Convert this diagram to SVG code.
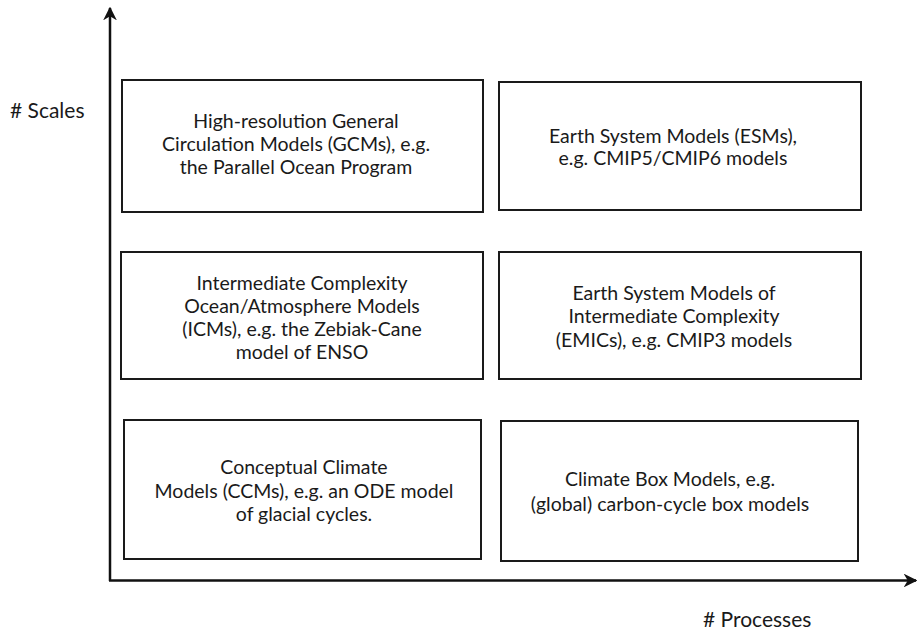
<svg xmlns="http://www.w3.org/2000/svg" width="918" height="631" viewBox="0 0 918 631">
<defs>
<style>
.box{fill:#fff;stroke:#1a1a1a;stroke-width:2}
.t{font-family:Lato,"Open Sans","DejaVu Sans",sans-serif;font-size:19.5px;fill:#1a1a1a;text-anchor:middle}
.lbl{font-family:Lato,"Open Sans","DejaVu Sans",sans-serif;font-size:21px;fill:#1a1a1a}
.ax{stroke:#111;stroke-width:2.5;fill:none}
</style>
<marker id="ah" viewBox="0 0 10 10" refX="9" refY="5" markerWidth="5.5" markerHeight="5.5" markerUnits="strokeWidth" orient="auto">
<path d="M0,0 L10,5 L0,10 L3,5 z" fill="#111"/>
</marker>
</defs>
<rect width="918" height="631" fill="#fff"/>
<g id="connectors">
<path class="ax" d="M110,581 L110,8" marker-end="url(#ah)"/>
<path class="ax" d="M109,580.5 L916,580.5" marker-end="url(#ah)"/>
</g>
<g id="axis-labels">
<text class="lbl" x="10" y="118"># Scales</text>
<text class="lbl" x="703" y="627"># Processes</text>
</g>
<g id="gcm">
<rect class="box" x="122" y="80" width="361" height="132"/>
<text class="t" x="296" y="128">High-resolution General</text>
<text class="t" x="296" y="151">Circulation Models (GCMs), e.g.</text>
<text class="t" x="296" y="173.5">the Parallel Ocean Program</text>
</g>
<g id="esm">
<rect class="box" x="499" y="82" width="362" height="128"/>
<text class="t" x="673" y="142.5">Earth System Models (ESMs),</text>
<text class="t" x="673" y="165">e.g. CMIP5/CMIP6 models</text>
</g>
<g id="icm">
<rect class="box" x="121" y="252" width="362" height="127"/>
<text class="t" x="302" y="290">Intermediate Complexity</text>
<text class="t" x="302" y="312.5">Ocean/Atmosphere Models</text>
<text class="t" x="302" y="335.5">(ICMs), e.g. the Zebiak-Cane</text>
<text class="t" x="302" y="358.5">model of ENSO</text>
</g>
<g id="emic">
<rect class="box" x="499" y="252" width="362" height="127"/>
<text class="t" x="674" y="300">Earth System Models of</text>
<text class="t" x="674" y="323">Intermediate Complexity</text>
<text class="t" x="674" y="347">(EMICs), e.g. CMIP3 models</text>
</g>
<g id="ccm">
<rect class="box" x="124" y="420" width="357" height="139"/>
<text class="t" x="304" y="474">Conceptual Climate</text>
<text class="t" x="304" y="497.5">Models (CCMs), e.g. an ODE model</text>
<text class="t" x="304" y="520.5">of glacial cycles.</text>
</g>
<g id="cbm">
<rect class="box" x="501" y="421" width="357" height="140"/>
<text class="t" x="670" y="486">Climate Box Models, e.g.</text>
<text class="t" x="670" y="511">(global) carbon-cycle box models</text>
</g>
</svg>
